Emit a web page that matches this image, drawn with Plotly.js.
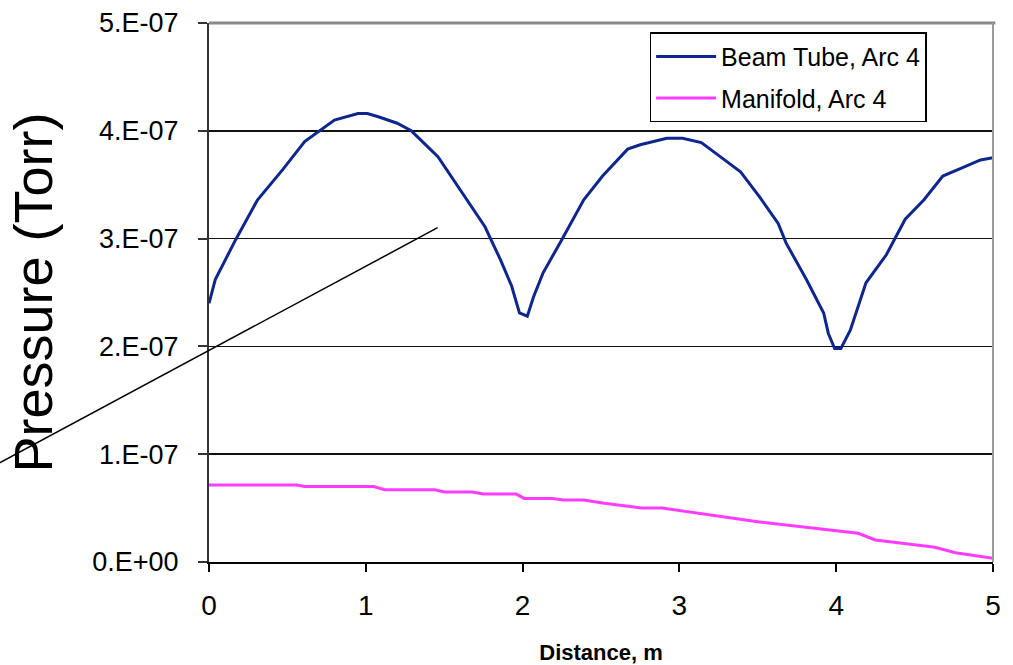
<!DOCTYPE html>
<html>
<head>
<meta charset="utf-8">
<script src="https://cdn.plot.ly/plotly-3.0.1.min.js"></script>
<style>
  html, body { margin: 0; padding: 0; background: #ffffff; }
  #chart { width: 1013px; height: 665px; }
</style>
</head>
<body>
<div id="chart"></div>
<script>
// Beam Tube, Arc 4
const beamX = [0.00, 0.04, 0.17, 0.31, 0.47, 0.61, 0.80, 0.95, 1.01, 1.08, 1.20, 1.29, 1.46, 1.59, 1.76, 1.86, 1.93, 1.98, 2.03, 2.07, 2.13, 2.25, 2.39, 2.51, 2.67, 2.75, 2.92, 3.02, 3.14, 3.26, 3.39, 3.51, 3.63, 3.68, 3.81, 3.92, 3.95, 3.99, 4.03, 4.09, 4.19, 4.32, 4.44, 4.56, 4.68, 4.81, 4.92, 5.00];
const beamY = [2.40e-7, 2.62e-7, 2.99e-7, 3.36e-7, 3.64e-7, 3.90e-7, 4.10e-7, 4.16e-7, 4.16e-7, 4.13e-7, 4.07e-7, 4.00e-7, 3.76e-7, 3.48e-7, 3.11e-7, 2.80e-7, 2.56e-7, 2.31e-7, 2.28e-7, 2.46e-7, 2.68e-7, 2.99e-7, 3.36e-7, 3.58e-7, 3.83e-7, 3.87e-7, 3.93e-7, 3.93e-7, 3.89e-7, 3.76e-7, 3.62e-7, 3.39e-7, 3.14e-7, 2.96e-7, 2.62e-7, 2.31e-7, 2.12e-7, 1.98e-7, 1.98e-7, 2.15e-7, 2.59e-7, 2.85e-7, 3.18e-7, 3.36e-7, 3.58e-7, 3.66e-7, 3.73e-7, 3.75e-7];

// Manifold, Arc 4
const manX = [0.00, 0.56, 0.61, 1.05, 1.12, 1.44, 1.50, 1.68, 1.75, 1.96, 2.01, 2.19, 2.26, 2.39, 2.52, 2.76, 2.89, 3.50, 4.14, 4.25, 4.63, 4.76, 5.00];
const manY = [0.715e-7, 0.715e-7, 0.70e-7, 0.70e-7, 0.67e-7, 0.67e-7, 0.65e-7, 0.65e-7, 0.63e-7, 0.63e-7, 0.59e-7, 0.59e-7, 0.575e-7, 0.575e-7, 0.545e-7, 0.50e-7, 0.50e-7, 0.374e-7, 0.266e-7, 0.204e-7, 0.136e-7, 0.086e-7, 0.034e-7];

const seriesNames = ["Beam Tube, Arc 4", "Manifold, Arc 4"];
const xTickVals = [0, 1, 2, 3, 4, 5];
const xTickText = ["0", "1", "2", "3", "4", "5"];
const yTickVals = [0, 1e-7, 2e-7, 3e-7, 4e-7, 5e-7];
const yTickText = ["0.E+00", "1.E-07", "2.E-07", "3.E-07", "4.E-07", "5.E-07"];

const FONT = "Liberation Sans, Arial, sans-serif";

const traces = [
  { x: beamX, y: beamY, name: seriesNames[0], type: "scatter", mode: "lines",
    legendgroup: "g1", line: { color: "#0f268c", width: 3 } },
  { x: manX, y: manY, name: seriesNames[1], type: "scatter", mode: "lines",
    legendgroup: "g2", line: { color: "#ff3cff", width: 3 } }
];

const layout = {
  width: 1013, height: 665,
  margin: { l: 209, r: 20, t: 23, b: 103 },
  paper_bgcolor: "#ffffff",
  plot_bgcolor: "#ffffff",
  font: { family: FONT, color: "#000000" },
  showlegend: true,
  legend: {
    x: 0.562, y: 0.983, xanchor: "left", yanchor: "top",
    bgcolor: "#ffffff", bordercolor: "#000000", borderwidth: 1.5,
    font: { family: FONT, size: 25, color: "#000000" },
    itemwidth: 60, tracegroupgap: 6
  },
  xaxis: {
    range: [0, 5], tickvals: xTickVals, ticktext: xTickText,
    ticks: "outside", ticklen: 8, tickwidth: 2, tickcolor: "#000000",
    showline: true, linecolor: "#000000", linewidth: 2,
    showgrid: false, zeroline: false,
    tickfont: { family: FONT, size: 28, color: "#000000" },
    ticklabelstandoff: 9,
    title: { text: "Distance, m", font: { family: FONT, size: 22, weight: "bold", color: "#000000" }, standoff: 26 }
  },
  yaxis: {
    range: [0, 5e-7], tickvals: yTickVals, ticktext: yTickText,
    ticks: "outside", ticklen: 9, tickwidth: 2, tickcolor: "#333333",
    showline: true, linecolor: "#333333", linewidth: 2,
    showgrid: true, gridcolor: "#111111", gridwidth: 1.5, zeroline: false,
    tickfont: { family: FONT, size: 27, color: "#000000" },
    ticklabelstandoff: 14,
    title: { text: "Pressure (Torr)", font: { family: FONT, size: 54, color: "#000000" }, standoff: 22 }
  },
  shapes: [
    // top border
    { type: "line", xref: "paper", yref: "paper", x0: 0, x1: 1.003, y0: 1, y1: 1,
      line: { color: "#8a8a8a", width: 3 } },
    // right border
    { type: "line", xref: "paper", yref: "paper", x0: 1, x1: 1, y0: 0, y1: 1,
      line: { color: "#9a9a9a", width: 2 } },
    // stray pointer line
    { type: "line", xref: "paper", yref: "paper", x0: -0.2674, y0: 0.1838, x1: 0.2916, y1: 0.6202,
      line: { color: "#000000", width: 1.5 } }
  ]
};

Plotly.newPlot("chart", traces, layout, { displayModeBar: false, staticPlot: true });
</script>
</body>
</html>
